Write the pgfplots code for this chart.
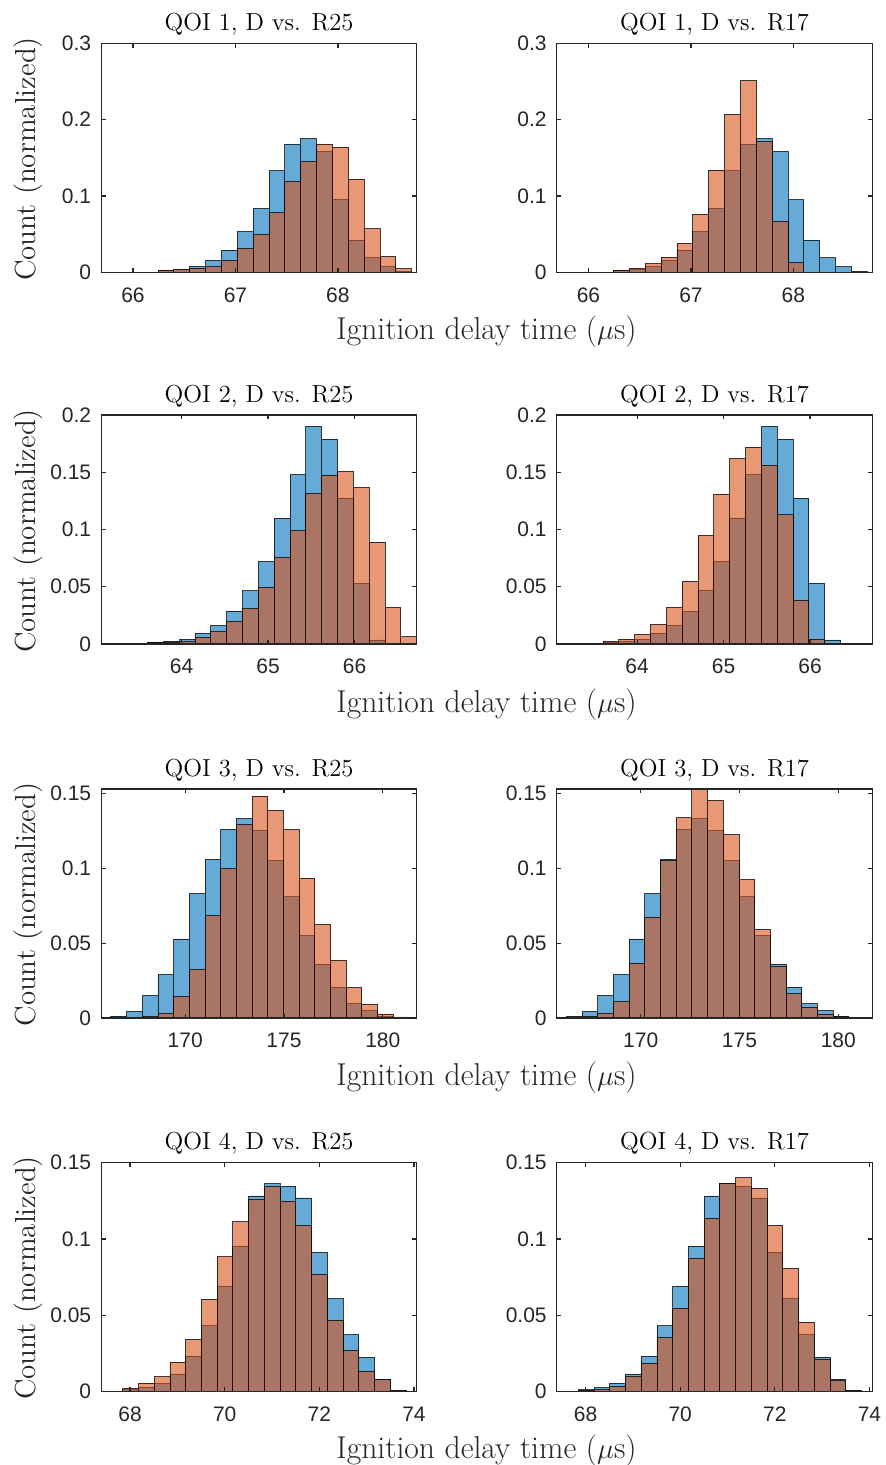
\documentclass[border=0pt]{standalone}
\usepackage{pgfplots}
\usepackage{pgfplotstable}
\pgfplotsset{compat=1.18}
\usepackage{fontspec}
\setsansfont{Liberation Sans}

\definecolor{dblue}{rgb}{0,0.447,0.741}
\definecolor{rorange}{rgb}{0.85,0.325,0.098}
\definecolor{axgray}{rgb}{0.15,0.15,0.15}

% normalized counts per bin (bin centres in x)
\pgfplotstableread{
x       D      R25    R17
66.3224 0.0020 0.0026 0.0020
66.4771 0.0040 0.0040 0.0050
66.6318 0.0075 0.0050 0.0110
66.7865 0.0157 0.0070 0.0200
66.9412 0.0290 0.0153 0.0380
67.0959 0.0530 0.0310 0.0760
67.2506 0.0835 0.0500 0.1340
67.4053 0.1330 0.0780 0.2070
67.5600 0.1675 0.1190 0.2510
67.7147 0.1750 0.1450 0.1710
67.8694 0.1580 0.1680 0.0670
68.0241 0.0950 0.1640 0.0130
68.1788 0.0420 0.1220 0
68.3335 0.0190 0.0570 0
68.4882 0.0070 0.0210 0
68.6429 0.0013 0.0044 0
}\qoione

\pgfplotstableread{
x       D      R25    R17
63.6966 0.0012 0.0010 0.0023
63.8798 0.0023 0.0017 0.0043
64.0630 0.0040 0.0023 0.0084
64.2462 0.0093 0.0060 0.0171
64.4294 0.0160 0.0107 0.0319
64.6126 0.0287 0.0197 0.0548
64.7958 0.0464 0.0310 0.0948
64.9790 0.0719 0.0493 0.1310
65.1622 0.1100 0.0754 0.1620
65.3454 0.1480 0.0988 0.1720
65.5286 0.1900 0.1316 0.1560
65.7118 0.1790 0.1475 0.1128
65.8950 0.1275 0.1507 0.0380
66.0782 0.0530 0.1365 0.0043
66.2614 0.0035 0.0890 0
66.4446 0      0.0319 0
66.6278 0      0.0064 0
}\qoitwo

\pgfplotstableread{
x       D      R25    R17
166.637 0.0013 0      0
167.431 0.0045 0.0004 0.0009
168.225 0.0149 0.0011 0.0033
169.019 0.0290 0.0033 0.0110
169.813 0.0528 0.0143 0.0367
170.607 0.0831 0.0325 0.0675
171.401 0.1060 0.0686 0.1050
172.195 0.1260 0.0996 0.1339
172.989 0.1332 0.1292 0.1528
173.783 0.1250 0.1483 0.1454
174.577 0.1050 0.1388 0.1225
175.371 0.0810 0.1258 0.0924
176.165 0.0550 0.0935 0.0592
176.959 0.0360 0.0626 0.0345
177.753 0.0207 0.0385 0.0163
178.547 0.0094 0.0203 0.0073
179.341 0.0050 0.0091 0.0027
180.135 0.0011 0.0027 0.0011
180.929 0      0.0007 0
}\qoithree

\pgfplotstableread{
x       D      R25    R17
68.0123 0.0012 0.0020 0.0008
68.3449 0.0026 0.0057 0.0013
68.6775 0.0055 0.0097 0.0033
69.0101 0.0115 0.0194 0.0099
69.3427 0.0233 0.0344 0.0185
69.6753 0.0431 0.0606 0.0355
70.0079 0.0690 0.0883 0.0548
70.3405 0.0953 0.1112 0.0872
70.6731 0.1282 0.1258 0.1137
71.0057 0.1362 0.1344 0.1363
71.3383 0.1346 0.1247 0.1403
71.6709 0.1269 0.1088 0.1333
72.0035 0.0913 0.0769 0.1090
72.3361 0.0610 0.0467 0.0808
72.6687 0.0373 0.0269 0.0456
73.0013 0.0227 0.0134 0.0214
73.3339 0.0081 0.0081 0.0073
73.6665 0.0011 0.0011 0.0011
}\qoifour

\pgfplotsset{
  hist/.style={
    scale only axis, width=157.8pt, height=114.5pt,
    anchor=north west,
    axis on top,
    axis line style={axgray, line width=0.6pt},
    major tick style={axgray, line width=0.6pt},
    major tick length=2.2pt,
    tick align=inside,
    tick label style={font=\fontsize{10.5}{12}\selectfont\sffamily, text=axgray},
    xticklabel shift=4pt,
    yticklabel shift=1.5pt,
    title style={font=\fontsize{12.3}{14}\selectfont, at={(0.5,1)}, anchor=base, yshift=0.5pt},
    ymin=0,
  },
  dset/.style={ybar, bar width=#1, bar shift=0pt, fill=dblue, fill opacity=0.6,
    draw=black, draw opacity=0.75, line width=0.45pt},
  rset/.style={ybar, bar width=#1, bar shift=0pt, fill=rorange, fill opacity=0.6,
    draw=black, draw opacity=0.75, line width=0.45pt},
  row1/.style={xmin=65.69, xmax=68.77, ymax=0.3, xtick={66,67,68}, xticklabels={66,67,68},
    ytick={0,0.1,0.2,0.3}, yticklabels={0,0.1,0.2,0.3}},
  row2/.style={xmin=63.07, xmax=66.72, ymax=0.2, xtick={64,65,66}, xticklabels={64,65,66},
    ytick={0,0.05,0.1,0.15,0.2}, yticklabels={0,0.05,0.1,0.15,0.2}},
  row3/.style={xmin=165.75, xmax=181.72, ymax=0.153, xtick={170,175,180}, xticklabels={170,175,180},
    ytick={0,0.05,0.1,0.15}, yticklabels={0,0.05,0.1,0.15}},
  row4/.style={xmin=67.39, xmax=74.06, ymax=0.15, xtick={68,70,72,74}, xticklabels={68,70,72,74},
    ytick={0,0.05,0.1,0.15}, yticklabels={0,0.05,0.1,0.15}},
}

\begin{document}
\begin{tikzpicture}
\useasboundingbox (0,0) rectangle (443pt,-732.5pt);

% ---- QOI 1 ----
\begin{axis}[hist, row1, at={(50.6pt,-21.65pt)}, title={QOI 1, D vs. R25}]
  \addplot[dset=0.1547] table[x=x, y=D] {\qoione};
  \addplot[rset=0.1547] table[x=x, y=R25] {\qoione};
\end{axis}
\begin{axis}[hist, row1, at={(278.35pt,-21.65pt)}, title={QOI 1, D vs. R17}]
  \addplot[dset=0.1547] table[x=x, y=D] {\qoione};
  \addplot[rset=0.1547] table[x=x, y=R17] {\qoione};
\end{axis}

% ---- QOI 2 ----
\begin{axis}[hist, row2, at={(50.6pt,-207.5pt)}, title={QOI 2, D vs. R25}]
  \addplot[dset=0.1832] table[x=x, y=D] {\qoitwo};
  \addplot[rset=0.1832] table[x=x, y=R25] {\qoitwo};
\end{axis}
\begin{axis}[hist, row2, at={(278.35pt,-207.5pt)}, title={QOI 2, D vs. R17}]
  \addplot[dset=0.1832] table[x=x, y=D] {\qoitwo};
  \addplot[rset=0.1832] table[x=x, y=R17] {\qoitwo};
\end{axis}

% ---- QOI 3 ----
\begin{axis}[hist, row3, at={(50.6pt,-394.5pt)}, title={QOI 3, D vs. R25}]
  \addplot[dset=0.794] table[x=x, y=D] {\qoithree};
  \addplot[rset=0.794] table[x=x, y=R25] {\qoithree};
\end{axis}
\begin{axis}[hist, row3, at={(278.35pt,-394.5pt)}, title={QOI 3, D vs. R17}]
  \addplot[dset=0.794] table[x=x, y=D] {\qoithree};
  \addplot[rset=0.794] table[x=x, y=R17] {\qoithree};
\end{axis}

% ---- QOI 4 ----
\begin{axis}[hist, row4, at={(50.6pt,-581.35pt)}, title={QOI 4, D vs. R25}]
  \addplot[dset=0.3326] table[x=x, y=D] {\qoifour};
  \addplot[rset=0.3326] table[x=x, y=R25] {\qoifour};
\end{axis}
\begin{axis}[hist, row4, at={(278.35pt,-581.35pt)}, title={QOI 4, D vs. R17}]
  \addplot[dset=0.3326] table[x=x, y=D] {\qoifour};
  \addplot[rset=0.3326] table[x=x, y=R17] {\qoifour};
\end{axis}

% shared axis labels
\foreach \yb in {169.5, 356, 542.5, 729}
  \node[anchor=base, font=\fontsize{15.8}{18}\selectfont, text=axgray] at (243.25pt,-\yb pt) {Ignition delay time ($\mu$s)};
\foreach \yc in {79.5, 265.5, 452.3, 639}
  \node[rotate=90, anchor=base, font=\fontsize{14.5}{16}\selectfont, text=axgray] at (17.5pt,-\yc pt) {Count (normalized)};
\end{tikzpicture}
\end{document}
